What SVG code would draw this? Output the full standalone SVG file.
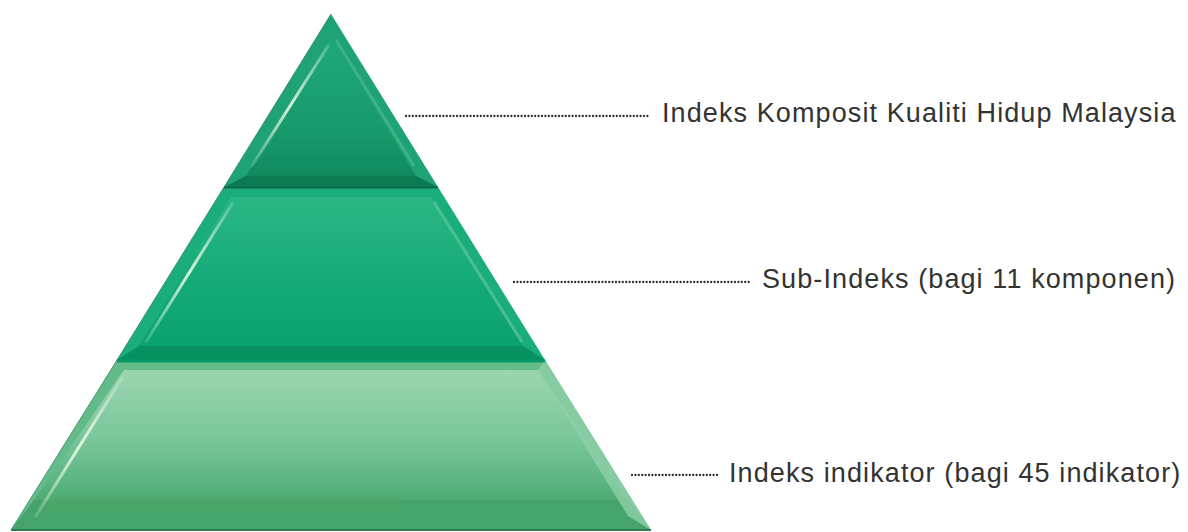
<svg xmlns="http://www.w3.org/2000/svg" width="1188" height="532" viewBox="0 0 1188 532">
<defs>
<style>
.lbl{font-family:"Liberation Sans",Arial,sans-serif;font-size:27px;fill:#333333;letter-spacing:1.1px}
.dots{stroke:#2a2a2a;stroke-width:2.3;stroke-linecap:round;stroke-dasharray:0 3.4;fill:none}
.hl{stroke:url(#hlg);stroke-width:3;stroke-linecap:round;fill:none}
.edge{stroke:#2f7a55;stroke-width:1;fill:none;opacity:0.7}
</style>
<linearGradient id="hlg" x1="0" y1="0" x2="0" y2="1">
<stop offset="0" stop-color="#ffffff" stop-opacity="0.2"/>
<stop offset="0.5" stop-color="#f4ffe8" stop-opacity="0.85"/>
<stop offset="1" stop-color="#ffffff" stop-opacity="0.15"/>
</linearGradient>
<linearGradient id="f1" x1="0" y1="0" x2="0" y2="1">
<stop offset="0" stop-color="#1fa97b"/>
<stop offset="0.7" stop-color="#17996c"/>
<stop offset="1" stop-color="#0f8a5f"/>
</linearGradient>
<linearGradient id="f2" x1="0" y1="0" x2="0" y2="1">
<stop offset="0" stop-color="#2ab685"/>
<stop offset="0.6" stop-color="#14aa78"/>
<stop offset="1" stop-color="#0aa26f"/>
</linearGradient>
<linearGradient id="f3" x1="0" y1="0" x2="0" y2="1">
<stop offset="0" stop-color="#9ad5ae"/>
<stop offset="0.5" stop-color="#7cc79c"/>
<stop offset="0.85" stop-color="#5cb583"/>
<stop offset="1" stop-color="#4fab72"/>
</linearGradient>
</defs>
<rect width="1188" height="532" fill="#ffffff"/>

<g id="tier-top">
<polygon points="331,14 224,187 438,187" fill="#1ea276"/>
<polygon points="246,176 416,176 438,187 224,187" fill="#0b7a52"/>
<polygon points="331,37 246,176 416,176" fill="url(#f1)"/>
<line class="hl" x1="328" y1="46" x2="252" y2="166"/>
<line x1="336" y1="40" x2="414" y2="166" stroke="#5cc596" stroke-width="3" opacity="0.5"/>
<line class="edge" x1="331" y1="14" x2="224" y2="187"/>
</g>

<g id="tier-middle">
<polygon points="224,187 438,187 545,360 117,360" fill="#1cad7c"/>
<polygon points="139,346 523,346 545,360 117,360" fill="#079060"/>
<polygon points="231,197 431,197 523,346 139,346" fill="url(#f2)"/>
<line class="hl" x1="232" y1="204" x2="146" y2="342"/>
<line x1="434" y1="202" x2="522" y2="342" stroke="#6fcf9f" stroke-width="3" opacity="0.55"/>
<line x1="224" y1="187.5" x2="438" y2="187.5" stroke="#0a6d48" stroke-width="2"/>
<line class="edge" x1="224" y1="187" x2="117" y2="360"/>
</g>

<g id="tier-bottom">
<polygon points="117,360 545,360 651,530 11,530" fill="#63bb8a"/>
<polygon points="34,500 628,500 651,530 11,530" fill="#45a46b"/>
<polygon points="124,370 538,370 628,500 34,500" fill="url(#f3)"/>
<rect x="40" y="498" width="360" height="14" fill="#4fa964" opacity="0.35"/>
<polygon points="538,370 545,360 651,530 628,516" fill="#8fd0a8" opacity="0.8"/>
<line class="hl" x1="122" y1="378" x2="36" y2="516"/>
<line x1="117" y1="361" x2="545" y2="361" stroke="#079a66" stroke-width="3"/>
<line x1="11" y1="530" x2="651" y2="530" stroke="#2b7d4f" stroke-width="2"/>
<line class="edge" x1="117" y1="360" x2="11" y2="530"/>
<text class="lbl" x="729" y="482">Indeks indikator (bagi 45 indikator)</text>
</g>

<g id="labels">
<text class="lbl" x="662" y="122">Indeks Komposit Kualiti Hidup Malaysia</text>
<text class="lbl" x="762" y="288">Sub-Indeks (bagi 11 komponen)</text>
</g>

<g id="connectors">
<line class="dots" x1="406" y1="116" x2="648" y2="116"/>
<line class="dots" x1="514" y1="282" x2="750" y2="282"/>
<line class="dots" x1="632" y1="475" x2="720" y2="475"/>
</g>
</svg>
